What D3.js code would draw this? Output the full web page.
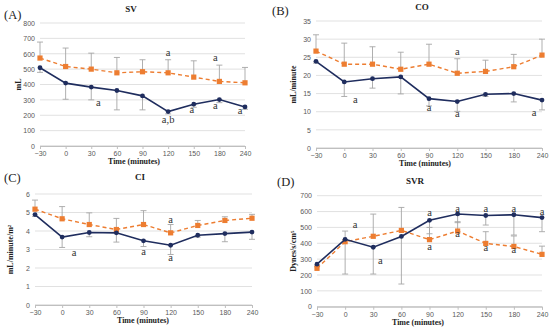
<!DOCTYPE html>
<html>
<head>
<meta charset="utf-8">
<script src="https://cdn.jsdelivr.net/npm/d3@7"></script>
<style>
  body { margin: 0; background: #fff; }
  svg { display: block; }
  .tick text { font-family: "Liberation Sans", Arial, sans-serif; fill: #595959; }
</style>
</head>
<body>
<svg width="550" height="330"></svg>
<script>
// time points (categorical x axis)
var times = ["\u221230", "0", "30", "60", "90", "120", "150", "180", "240"];

// (A) SV, mL
var svOrange = [572, 517, 500, 476, 483, 476, 448, 420, 411];
var svOrangeErr = [104, 120, 104, 100, 78, 85, 106, 106, 100];
var svBlue = [509, 409, 383, 361, 326, 224, 272, 302, 254];
var svBlueErr = [30, 105, 83, 126, 91, 15, 20, 20, 15];
var svTicks = [0, 100, 200, 300, 400, 500, 600, 700, 800];
var svNotes = [[2, 278, "a"], [5, 598, "a"], [5, 168, "a,b"], [6, 232, "a"], [7, 566, "a"], [7, 255, "a"], [8, 222, "a"]];

// (B) CO, mL/minute
var coOrange = [26.7, 23.1, 23.1, 21.7, 23.1, 20.6, 21.1, 22.4, 25.6];
var coOrangeErr = [4.5, 5.8, 4.8, 4.7, 5.5, 4.0, 3.1, 3.4, 4.4];
var coBlue = [23.9, 18.2, 19.1, 19.6, 13.6, 12.8, 14.8, 15.0, 13.2];
var coBlueErr = [0.5, 4.0, 2.6, 4.7, 2.0, 2.7, 0.6, 2.3, 2.7];
var coTicks = [0, 5, 10, 15, 20, 25, 30, 35];
var coNotes = [[1, 13.1, "a"], [4, 10.9, "a"], [5, 26.2, "a"], [5, 9.1, "a"], [8, 9.5, "a"]];

// (C) CI, mL/minute/m2
var ciOrange = [5.18, 4.66, 4.35, 4.08, 4.35, 3.90, 4.30, 4.57, 4.69];
var ciOrangeErr = [0.49, 0.66, 0.63, 0.60, 0.75, 0.45, 0.27, 0.20, 0.21];
var ciBlue = [4.89, 3.67, 3.92, 3.90, 3.47, 3.23, 3.77, 3.86, 3.94];
var ciBlueErr = [0.1, 0.56, 0.23, 0.50, 0.31, 0.50, 0.1, 0.44, 0.39];
var ciTicks = [0, 1, 2, 3, 4, 5, 6];
var ciNotes = [[1, 2.8, "a"], [4, 2.85, "a"], [5, 4.55, "a"], [5, 2.5, "a"]];

// (D) SVR, Dynes/s/cm5
var svrOrange = [242, 410, 444, 481, 423, 477, 399, 380, 330];
var svrOrangeErr = [10, 67, 140, 145, 77, 59, 74, 66, 52];
var svrBlue = [268, 425, 375, 443, 545, 585, 575, 580, 562];
var svrBlueErr = [10, 219, 169, 300, 85, 55, 60, 128, 89];
var svrTicks = [0, 100, 200, 300, 400, 500, 600, 700];
var svrNotes = [[1, 512, "a"], [2, 283, "a"], [4, 585, "a"], [4, 375, "a"], [5, 612, "a"], [5, 455, "a"],
                [6, 610, "a"], [6, 368, "a"], [7, 610, "a"], [7, 352, "a"], [8, 596, "a"]];

var orange = "#ed7d31";
var navy = "#1f2d5e";
var serif = "'Liberation Serif', 'DejaVu Serif', serif";

var svg = d3.select("svg");

function drawPanel(p) {
  var g = svg.append("g");
  var x = d3.scalePoint().domain(times).range([p.x0, p.x1]);
  var y = d3.scaleLinear().domain([0, p.max]).range([p.y0, p.y1]);

  // gridlines
  g.selectAll(".grid").data(p.ticks).enter().append("line")
    .attr("x1", p.x0).attr("x2", p.x1)
    .attr("y1", function(d) { return y(d); })
    .attr("y2", function(d) { return y(d); })
    .attr("stroke", function(d) { return d === 0 ? "#bfbfbf" : "#d9d9d9"; })
    .attr("stroke-width", 0.8);

  var ya = g.append("g")
    .attr("transform", "translate(" + (p.x0 - 3) + ",0)")
    .call(d3.axisLeft(y).tickValues(p.ticks).tickFormat(d3.format("d")).tickSize(0).tickPadding(2));
  ya.select(".domain").remove();
  ya.selectAll("text").style("font-size", "7px");

  var xa = g.append("g")
    .attr("transform", "translate(0," + p.y0 + ")")
    .call(d3.axisBottom(x).tickSize(3).tickPadding(2));
  xa.select(".domain").attr("stroke", "#bfbfbf");
  xa.selectAll("line").attr("stroke", "#bfbfbf");
  xa.selectAll("text").style("font-size", "7px");

  // error bars: orange upward, navy downward
  function errBars(vals, errs, dir) {
    var eg = g.append("g").attr("stroke", "#a6a6a6").attr("stroke-width", 0.9);
    vals.forEach(function(v, i) {
      var cx = x(times[i]);
      var ye = y(v + dir * errs[i]);
      eg.append("line").attr("x1", cx).attr("x2", cx).attr("y1", y(v)).attr("y2", ye);
      eg.append("line").attr("x1", cx - 3).attr("x2", cx + 3).attr("y1", ye).attr("y2", ye);
    });
  }
  errBars(p.orange, p.orangeErr, 1);
  errBars(p.blue, p.blueErr, -1);

  var line = d3.line()
    .x(function(d, i) { return x(times[i]); })
    .y(function(d) { return y(d); });

  g.append("path").datum(p.orange)
    .attr("d", line).attr("fill", "none")
    .attr("stroke", orange).attr("stroke-width", 1.4)
    .attr("stroke-dasharray", "4,3");
  g.selectAll(".sq").data(p.orange).enter().append("rect")
    .attr("x", function(d, i) { return x(times[i]) - 2.6; })
    .attr("y", function(d) { return y(d) - 2.6; })
    .attr("width", 5.2).attr("height", 5.2)
    .attr("fill", orange);

  g.append("path").datum(p.blue)
    .attr("d", line).attr("fill", "none")
    .attr("stroke", navy).attr("stroke-width", 1.6);
  g.selectAll(".dot").data(p.blue).enter().append("circle")
    .attr("cx", function(d, i) { return x(times[i]); })
    .attr("cy", function(d) { return y(d); })
    .attr("r", 2.4)
    .attr("fill", navy);

  // significance letters
  g.selectAll(".note").data(p.notes).enter().append("text")
    .attr("x", function(d) { return x(times[d[0]]) + (p.noteDx[d[0]] || 0); })
    .attr("y", function(d) { return y(d[1]); })
    .attr("text-anchor", "middle")
    .attr("dominant-baseline", "middle")
    .style("font-family", serif)
    .style("font-size", "10.5px")
    .attr("fill", "#333")
    .text(function(d) { return d[2]; });

  // titles
  g.append("text")
    .attr("x", p.lx).attr("y", p.ly)
    .style("font-family", serif).style("font-size", "12.5px").attr("fill", "#222")
    .text(p.label);
  g.append("text")
    .attr("x", p.tx).attr("y", p.ty)
    .attr("text-anchor", "middle")
    .style("font-family", serif).style("font-size", "9px").style("font-weight", "bold").attr("fill", "#222")
    .text(p.title);
  g.append("text")
    .attr("x", p.tx + 3).attr("y", p.y0 + 18)
    .attr("text-anchor", "middle")
    .style("font-family", serif).style("font-size", "8px").style("font-weight", "bold").attr("fill", "#222")
    .text("Time (minutes)");
  var yt = g.append("text")
    .attr("transform", "translate(" + p.yx + "," + ((p.y0 + p.y1) / 2) + ") rotate(-90)")
    .attr("text-anchor", "middle")
    .style("font-family", serif).style("font-size", "8px").style("font-weight", "bold").attr("fill", "#222");
  yt.text(p.ytitle);
  if (p.ysup) {
    yt.append("tspan").attr("baseline-shift", "super").style("font-size", "5px").text(p.ysup);
  }
}

drawPanel({
  x0: 40, x1: 245, y0: 146, y1: 23, max: 800, ticks: svTicks,
  orange: svOrange, orangeErr: svOrangeErr, blue: svBlue, blueErr: svBlueErr,
  notes: svNotes, noteDx: {2: 7, 6: -2, 7: -4, 8: -5},
  label: "(A)", lx: 4, ly: 19, tx: 131, title: "SV", ty: 12, ytitle: "mL", yx: 21
});
drawPanel({
  x0: 316, x1: 542, y0: 148, y1: 21, max: 35, ticks: coTicks,
  orange: coOrange, orangeErr: coOrangeErr, blue: coBlue, blueErr: coBlueErr,
  notes: coNotes, noteDx: {1: 11, 8: -8},
  label: "(B)", lx: 272, ly: 15, tx: 422, title: "CO", ty: 10, ytitle: "mL/minute", yx: 296
});
drawPanel({
  x0: 35, x1: 252, y0: 305, y1: 194, max: 6, ticks: ciTicks,
  orange: ciOrange, orangeErr: ciOrangeErr, blue: ciBlue, blueErr: ciBlueErr,
  notes: ciNotes, noteDx: {1: 12},
  label: "(C)", lx: 4, ly: 182, tx: 140, title: "CI", ty: 180, ytitle: "mL/minute/m", ysup: "2", yx: 13
});
drawPanel({
  x0: 317, x1: 542, y0: 306.7, y1: 195.7, max: 700, ticks: svrTicks,
  orange: svrOrange, orangeErr: svrOrangeErr, blue: svrBlue, blueErr: svrBlueErr,
  notes: svrNotes, noteDx: {1: 10, 2: 7},
  label: "(D)", lx: 277, ly: 186, tx: 415, title: "SVR", ty: 184, ytitle: "Dynes/s/cm", ysup: "5", yx: 296
});
</script>
</body>
</html>
